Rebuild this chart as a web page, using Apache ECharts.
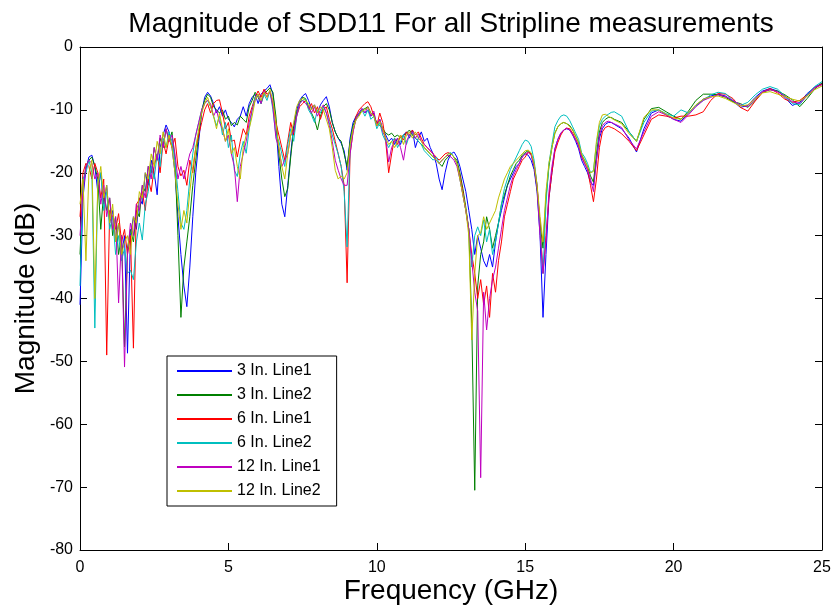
<!DOCTYPE html>
<html>
<head>
<meta charset="utf-8">
<title>Magnitude of SDD11</title>
<script src="https://cdn.jsdelivr.net/npm/echarts@6/dist/echarts.min.js"></script>
<style>
  html, body { margin: 0; padding: 0; background: #fff; }
  #chart { width: 833px; height: 606px; }
</style>
</head>
<body>
<div id="chart"></div>
<script>
// frequency samples (GHz) shared by all traces
const freq = [
  0, 0.1, 0.2, 0.3, 0.4, 0.5, 0.6, 0.7, 0.8, 0.9,
  1, 1.1, 1.2, 1.3, 1.4, 1.5, 1.6, 1.7, 1.8, 1.9,
  2, 2.1, 2.2, 2.3, 2.4, 2.5, 2.6, 2.7, 2.8, 2.9,
  3, 3.1, 3.2, 3.3, 3.4, 3.5, 3.6, 3.7, 3.8, 3.9,
  4, 4.1, 4.2, 4.3, 4.4, 4.5, 4.6, 4.7, 4.8, 4.9,
  5, 5.1, 5.2, 5.3, 5.4, 5.5, 5.6, 5.7, 5.8, 5.9,
  6, 6.1, 6.2, 6.3, 6.4, 6.5, 6.6, 6.7, 6.8, 6.9,
  7, 7.1, 7.2, 7.3, 7.4, 7.5, 7.6, 7.7, 7.8, 7.9,
  8, 8.1, 8.2, 8.3, 8.4, 8.5, 8.6, 8.7, 8.8, 8.9,
  9, 9.1, 9.2, 9.3, 9.4, 9.5, 9.6, 9.7, 9.8, 9.9,
  10, 10.1, 10.2, 10.3, 10.4, 10.5, 10.6, 10.7, 10.8, 10.9,
  11, 11.1, 11.2, 11.3, 11.4, 11.5, 11.6, 11.7, 11.8, 11.9,
  12, 12.1, 12.2, 12.3, 12.4, 12.5, 12.6, 12.7, 12.8, 12.9,
  13, 13.1, 13.2, 13.3, 13.4, 13.5, 13.6, 13.7, 13.8, 13.9,
  14, 14.1, 14.2, 14.3, 14.4, 14.5, 14.6, 14.7, 14.8, 14.9,
  15, 15.1, 15.2, 15.3, 15.4, 15.5, 15.6, 15.7, 15.8, 15.9,
  16, 16.1, 16.2, 16.3, 16.4, 16.5, 16.6, 16.7, 16.8, 16.9,
  17, 17.1, 17.2, 17.3, 17.4, 17.5, 17.6, 17.7, 17.8, 17.9,
  18,
  18.25, 18.5, 18.75, 19, 19.25, 19.5, 19.75, 20, 20.25, 20.5,
  20.75, 21, 21.25, 21.5, 21.75, 22, 22.25, 22.5, 22.75, 23,
  23.25, 23.5, 23.75, 24, 24.25, 24.5, 24.75, 25
]

// magnitude in dB
const line3in1 = [
  -41, -24, -19.5, -17.5, -17.2, -19, -23, -20, -25, -22,
  -28, -26, -31, -28, -33, -30, -48.7, -30, -27, -29,
  -24, -25, -20, -22, -18, -20, -23.5, -16, -14, -12.4,
  -13.5, -16, -20, -27, -33, -38, -41.3, -35, -27, -20,
  -15, -10.5, -8, -7.2, -7.8, -9, -10.5, -9.5, -11, -10,
  -11.5, -12, -12.7, -11.5, -11, -9.5, -11, -9, -8, -7.5,
  -9, -7.5, -7, -6.6, -6, -7.5, -12, -19, -25, -27,
  -22, -17, -12.5, -10, -8.5, -7.8, -7.4, -8.5, -9.8, -9.2,
  -10.5, -9.2, -8.5, -7.9, -9.5, -12, -13.5, -14.5, -15.3, -16.5,
  -19.6, -14.5, -12, -11, -10.5, -9.8, -10.5, -10, -11, -10.5,
  -12.5, -11.5, -13, -14, -15, -14.5, -15.5, -14.5, -15.5, -14,
  -13.5, -14.5, -13.2, -16, -14.5, -13.5, -15, -14.5, -16, -17,
  -18.5, -21, -22.7, -20, -18, -17, -16.7, -17.5, -19, -21,
  -23, -26, -29, -33, -30, -32, -34, -35, -33, -35,
  -31, -28, -26, -24, -22, -21, -20, -19, -18.5, -17.5,
  -17, -17.2, -18, -19.5, -23, -30, -43, -33, -24, -20,
  -16.2, -14.7, -13.7, -13.2, -13, -13.2, -14, -15, -16.2, -18,
  -19, -20, -21.5, -22, -18, -14.5, -13, -12.3, -12, -12,
  -12.3,
  -13, -14.5, -16.7, -13, -10.5, -10, -10.8, -11.5, -11.8, -10.5,
  -9.3, -8.3, -7.8, -7.5, -7.8, -8.6, -9.6, -9.3, -8, -7,
  -6.6, -7, -8, -9.3, -8.8, -7.4, -6.4, -5.8
]

const line3in2 = [
  -33, -22, -19, -18, -17.5, -19, -21, -29, -23, -26,
  -24, -30, -27, -33, -30, -47.7, -32, -29, -31, -26,
  -27, -22, -23, -19, -20, -16, -18, -14.5, -16, -13,
  -15, -13.5, -18, -30, -43, -35, -31, -27, -22, -18,
  -14, -10, -8.5, -7.5, -8, -9.5, -10, -10.5, -10, -11.5,
  -11, -12.5, -12, -12.4, -11, -11.5, -12, -9.5, -8.5, -7.2,
  -8, -9, -7.5, -7, -6.5, -7.2, -11, -17, -21, -23.8,
  -22.5, -17.5, -13, -10.5, -9, -8, -8.2, -9.5, -10.5, -11.5,
  -13.2, -11, -9.5, -9, -10, -12, -13.5, -14.5, -15, -17,
  -19, -15, -12.5, -11.2, -10.8, -10, -9.8, -9.5, -10.5, -11,
  -12, -12.5, -13, -13.7, -14, -13.7, -14.3, -14, -14.5, -14,
  -13.7, -13.2, -14, -14.5, -15, -15.5, -16, -16.5, -17, -17.5,
  -18, -18.5, -19, -18, -17.5, -17, -17.5, -18, -20, -22.5,
  -25.5, -29, -44, -70.5, -38, -33, -31, -27, -29, -32,
  -30, -28, -25, -23.5, -22, -20.5, -19.5, -18.5, -18, -17.2,
  -16.8, -16.5, -17, -19, -22.5, -28, -32, -24, -19, -16,
  -13.7, -12.7, -12.2, -12, -12.2, -12.5, -13.2, -14.2, -15.2, -17.2,
  -18, -19, -20.5, -21.5, -17, -13.5, -12, -11.5, -11.2, -11.2,
  -11.5,
  -12, -13.5, -15, -11.5, -9.8, -9.6, -10.3, -11, -11.5, -10.2,
  -8.5, -7.5, -7.5, -7.6, -8, -8.7, -9, -9.6, -8.5, -7.2,
  -6.8, -7, -7.6, -8.4, -9.5, -8.2, -6.7, -5.7
]

const line6in1 = [
  -27, -20, -18.5, -19, -21, -18.5, -20, -24, -21, -49,
  -26, -27, -29, -26.5, -31, -29, -33, -30, -47.9, -25,
  -24.3, -23, -26, -21, -23, -19, -17, -20, -15, -17,
  -14.5, -16, -14.5, -19, -20.5, -19.6, -22, -18, -20, -16,
  -14, -12, -10, -9, -10.5, -9, -8.5, -8.4, -10.5, -13,
  -12, -15, -14.8, -17.5, -15, -13, -14, -11, -9.5, -8,
  -7, -8, -6.7, -7.5, -7.2, -9, -12, -14, -16, -18,
  -15, -12, -14, -11, -9.5, -9, -8.5, -9.8, -9, -10.5,
  -9.5, -11.5, -10, -9.5, -11.5, -13, -15, -17, -19, -22,
  -37.5, -17, -13.5, -11, -10, -9.5, -9, -8.7, -9.5, -11,
  -12.5, -10.5, -12, -15, -20, -17, -14.5, -15.5, -14, -14.8,
  -13.5, -14, -13.2, -14, -13.5, -14.5, -15.5, -16, -16.5, -17,
  -17.5, -18, -17.5, -17, -16.8, -17, -17.5, -18.5, -20.5, -23,
  -26, -29, -33, -36, -40, -37, -41, -38, -43, -36,
  -39, -34, -31, -27, -25, -23, -21, -20, -19, -18,
  -17.5, -16.7, -17, -18.5, -22, -28, -36, -30, -24, -20,
  -16.7, -15.2, -14, -13.2, -12.9, -13, -13.7, -14.7, -15.7, -17.5,
  -18.5, -19.5, -22, -24.6, -21, -16, -13.5, -12.8, -12.6, -12.8,
  -13,
  -13.8, -15, -16.5, -14, -11.5, -10.8, -11, -11.3, -11, -11,
  -10.8, -10.3, -8.5, -7.4, -7.5, -8.2, -9.6, -10.2, -8.6, -7.2,
  -6.6, -7.3, -8.3, -8.8, -8.5, -7.6, -6.5, -5.9
]

const line6in2 = [
  -38, -21, -20, -18, -20, -44.7, -22, -20, -26, -23,
  -29, -27, -33, -30, -34, -32, -36, -35.5, -37, -31,
  -28, -30.7, -25, -23, -19, -21, -17, -19, -14.5, -16,
  -13.5, -15, -18, -23, -28, -29, -26, -21, -17, -14,
  -12, -10, -9, -8.5, -9.5, -11, -12.5, -11, -14, -12,
  -16, -14, -19.6, -20.6, -17, -15, -16.9, -13, -10, -8,
  -7.5, -9, -7.5, -8.5, -7, -10, -14, -15, -17, -19,
  -15.5, -13, -15, -11, -9, -8.5, -8.3, -10, -10.8, -12,
  -10, -10.5, -9.5, -10.5, -12, -14, -15.5, -17, -19, -23,
  -31.8, -16, -13, -11.5, -10.5, -10, -11, -10, -11.5, -11,
  -13, -12, -14, -15, -16, -15, -14.5, -16, -15, -14,
  -15.5, -14, -13.5, -14.5, -15, -15.5, -16.5, -17, -17.5, -18,
  -17.5, -18.5, -18, -17.5, -17, -16.8, -17.5, -18.5, -21, -23.5,
  -26, -29, -35, -30, -28.6, -30, -27.5, -31, -29, -33,
  -31, -28, -25, -22.5, -21, -19.5, -18.5, -17.5, -16.5, -15.5,
  -14.8, -15, -15.8, -18, -22, -29, -36, -25, -18.5, -15.5,
  -12.7, -11.7, -11, -10.8, -11, -11.7, -12.7, -13.7, -14.7, -16.8,
  -17.5, -18.5, -20, -19.6, -15.5, -12.5, -11.5, -11, -10.7, -10.4,
  -10.3,
  -11, -13.5, -15, -12, -10.2, -10, -10.6, -11, -10, -10.5,
  -9.3, -8.5, -7.6, -7.2, -7.4, -8.5, -9.3, -8.8, -7.6, -6.7,
  -6.3, -6.7, -7.8, -9, -9.2, -7.6, -6.3, -5.5
]

const line12in1 = [
  -30, -23, -19, -18, -18.5, -21, -20, -25, -22, -27,
  -24, -29, -27, -40.7, -30, -50.9, -33, -28, -30, -25,
  -26, -22, -24, -19, -21, -16, -18, -14, -16, -13,
  -15, -14, -17, -21, -19, -21, -19, -17, -16, -14,
  -12, -10, -9, -8.5, -9, -11, -10, -12, -13, -15,
  -14, -17, -19, -24.6, -19, -17, -15, -12, -10, -8.5,
  -7.5, -9, -7, -8, -7, -9.5, -14.5, -16, -19, -18,
  -17, -14, -13.5, -11, -9, -8.5, -9, -9.5, -10.5, -9.5,
  -11, -10, -9.2, -10.5, -12.5, -15, -18, -19.6, -21, -22,
  -22, -17, -13.5, -11.5, -10.5, -9.8, -10.5, -9.5, -11, -10.2,
  -12.5, -11.5, -13.5, -14.5, -18.3, -16, -15, -14.5, -16, -18,
  -15, -14, -13.5, -14.5, -13.8, -15, -15.5, -16, -16.5, -17,
  -18, -18.5, -18, -17.5, -17.2, -17.5, -18, -19, -21, -23.5,
  -26, -29, -34, -39, -42, -68.5, -39, -45, -40, -37,
  -35, -32, -29, -26, -24, -22, -20.5, -19.5, -18.5, -17.5,
  -17, -16.8, -17.2, -19, -22.5, -30, -36, -31, -23, -19,
  -16.2, -14.7, -13.7, -13.2, -12.9, -13.2, -14, -14.7, -15.7, -17.5,
  -18.5, -19.5, -21, -23, -18, -14, -12.5, -12, -11.8, -12,
  -12.2,
  -12.8, -14.8, -16.2, -13.5, -11, -10.3, -10.8, -11.5, -12, -10.8,
  -9.5, -8.5, -8, -7.6, -7.9, -8.5, -9.2, -9.5, -8.3, -7.1,
  -6.8, -7.1, -7.8, -8.7, -9, -7.8, -6.5, -6
]

const line12in2 = [
  -25, -21, -34, -20, -18, -40, -22, -19, -24, -22,
  -28, -25, -31, -28, -33, -31, -30, -33, -27, -28,
  -23, -24, -20, -21, -17, -19, -15, -17, -13.5, -16,
  -14, -16, -20, -25, -29, -26, -28, -23, -19, -16,
  -13, -10.5, -9, -8, -9.5, -11, -13, -10.5, -13, -15,
  -13, -17, -16, -19, -21, -16, -14, -13, -11, -8.5,
  -7.5, -8.5, -7.2, -8, -6.8, -8.5, -12, -16, -19, -21,
  -17, -14, -12, -9.5, -8.5, -8.2, -8.5, -9, -10, -9.2,
  -10.5, -9.5, -10, -11.5, -13, -16, -19.6, -21, -20.5, -21,
  -20, -15.5, -13, -11.6, -11, -10.2, -10, -9.6, -10.5, -11,
  -12.5, -11.8, -13, -14.5, -15.5, -15, -16, -15, -14, -15.5,
  -14, -13.5, -14.5, -13.5, -14.5, -15, -16, -16.5, -17, -17.5,
  -18, -18.5, -18, -17.5, -17, -17, -17.5, -18.5, -21, -23.5,
  -26, -30, -46.6, -36, -30, -29.6, -27, -29, -28, -27,
  -26, -24, -22.5, -21, -20, -19, -18.5, -18, -17.5, -17,
  -16.5, -16.4, -16.8, -18.5, -22, -27, -31, -23, -18.5, -16,
  -13.7, -12.7, -12.2, -12, -12.2, -12.7, -13.2, -14.2, -15.2, -17,
  -18, -19, -20, -19.8, -15, -12, -10.8, -10.7, -11, -11.3,
  -11.6,
  -12.2, -13.8, -15, -11.2, -10, -10, -10.7, -11.3, -11.5, -10.5,
  -9.2, -8.3, -7.9, -7.8, -8.2, -8.8, -9.4, -9.2, -8.2, -7.3,
  -7.1, -7.5, -7.9, -8.3, -8.6, -7.8, -6.8, -6.2
]

const seriesNames = ['3 In. Line1', '3 In. Line2', '6 In. Line1', '6 In. Line2', '12 In. Line1', '12 In. Line2']
const seriesValues = [line3in1, line3in2, line6in1, line6in2, line12in1, line12in2]
const seriesColors = ['#0000ff', '#008000', '#ff0000', '#00bfbf', '#bf00bf', '#bfbf00']

const xTicks = [0, 5, 10, 15, 20, 25]
const yTicks = [-80, -70, -60, -50, -40, -30, -20, -10, 0]

const font = 'Arial, "Liberation Sans", Helvetica, sans-serif'

const chart = echarts.init(document.getElementById('chart'), null, { renderer: 'canvas' })

const axisLine = { show: true, onZero: false, lineStyle: { color: '#000', width: 1 } }
const axisTick = { show: true, inside: true, length: 7, lineStyle: { color: '#000', width: 1 } }

const xBase = {
  type: 'value',
  min: xTicks[0],
  max: xTicks[xTicks.length - 1],
  interval: xTicks[1] - xTicks[0],
  axisLine: axisLine,
  axisTick: axisTick,
  splitLine: { show: false }
}
const yBase = {
  type: 'value',
  min: yTicks[0],
  max: yTicks[yTicks.length - 1],
  interval: yTicks[1] - yTicks[0],
  axisLine: axisLine,
  axisTick: axisTick,
  splitLine: { show: false }
}

chart.setOption({
  animation: false,
  backgroundColor: '#fff',
  title: {
    text: 'Magnitude of SDD11 For all Stripline measurements',
    left: 451,
    top: 10,
    textAlign: 'center',
    padding: 0,
    textStyle: { fontFamily: font, fontSize: 28, fontWeight: 'normal', color: '#000' }
  },
  grid: { left: 80, right: 11, top: 47, bottom: 56, containLabel: false, outerBoundsMode: 'none' },
  legend: {
    orient: 'vertical',
    left: 167,
    top: 356,
    icon: 'rect',
    itemWidth: 55,
    itemHeight: 2,
    itemGap: 8,
    padding: [7, 16, 7, 10],
    borderColor: '#000',
    borderWidth: 1,
    borderRadius: 0,
    backgroundColor: '#fff',
    textStyle: { fontFamily: font, fontSize: 16, lineHeight: 14, color: '#000' },
    data: seriesNames
  },
  xAxis: [
    Object.assign({}, xBase, {
      position: 'bottom',
      axisLabel: { color: '#000', fontSize: 16, fontFamily: font, margin: 10 },
      name: 'Frequency (GHz)',
      nameLocation: 'middle',
      nameGap: 27,
      nameMoveOverlap: false,
      nameTextStyle: { color: '#000', fontSize: 28, fontFamily: font }
    }),
    Object.assign({}, xBase, { position: 'top', axisLabel: { show: false } })
  ],
  yAxis: [
    Object.assign({}, yBase, {
      position: 'left',
      axisLabel: { color: '#000', fontSize: 16, fontFamily: font, margin: 7 },
      name: 'Magnitude (dB)',
      nameLocation: 'middle',
      nameGap: 40,
      nameMoveOverlap: false,
      nameTextStyle: { color: '#000', fontSize: 28, fontFamily: font }
    }),
    Object.assign({}, yBase, { position: 'right', axisLabel: { show: false } })
  ],
  series: seriesNames.map((name, k) => ({
    name: name,
    type: 'line',
    xAxisIndex: 0,
    yAxisIndex: 0,
    symbol: 'none',
    clip: true,
    color: seriesColors[k],
    lineStyle: { color: seriesColors[k], width: 1 },
    data: freq.map((f, i) => [f, seriesValues[k][i]])
  }))
})
</script>
</body>
</html>
